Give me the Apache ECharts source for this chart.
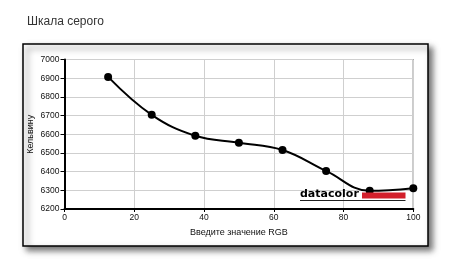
<!DOCTYPE html>
<html>
<head>
<meta charset="utf-8">
<script src="https://cdn.jsdelivr.net/npm/echarts@6/dist/echarts.min.js"></script>
<style>
html,body{margin:0;padding:0;background:#fff;}
#chart{width:457px;height:264px;}
</style>
</head>
<body>
<div id="chart"></div>
<script>
var chartTitle = 'Шкала серого';
var xAxisName = 'Введите значение RGB';
var yAxisName = 'Кельвину';
var rgbValues = [12.5, 25, 37.5, 50, 62.5, 75, 87.5, 100];
var kelvinValues = [6907, 6704, 6592, 6555, 6516, 6404, 6297, 6311];
var xTicks = [0, 20, 40, 60, 80, 100];
var yTicks = [6200, 6300, 6400, 6500, 6600, 6700, 6800, 6900, 7000];
var logoText = 'datacolor';

var chart = echarts.init(document.getElementById('chart'), null, {renderer: 'canvas'});
var points = rgbValues.map(function (x, i) { return [x, kelvinValues[i]]; });
var font = 'Liberation Sans, Arial, sans-serif';

chart.setOption({
  animation: false,
  backgroundColor: '#fff',
  title: {
    text: chartTitle,
    left: 22,
    top: 11,
    textStyle: {fontFamily: font, fontSize: 12, fontWeight: 'normal', color: '#333'}
  },
  graphic: [
    {
      type: 'rect', z: -10, silent: true,
      shape: {x: 23, y: 44, width: 405, height: 202},
      style: {fill: '#fff', stroke: '#000', lineWidth: 1.5,
        shadowBlur: 6, shadowOffsetX: 4, shadowOffsetY: 4, shadowColor: 'rgba(0,0,0,0.55)'}
    },
    {
      type: 'text', z: 100, silent: true,
      x: 300, y: 199.5,
      style: {text: logoText, fontFamily: 'DejaVu Sans, sans-serif', fontWeight: 'bold', fontSize: 11,
        fill: '#000', textVerticalAlign: 'bottom', textAlign: 'left'}
    },
    {
      type: 'rect', z: 100, silent: true,
      shape: {x: 362, y: 192.5, width: 43.5, height: 6},
      style: {fill: '#d21f2b'}
    },
    {
      type: 'line', z: 100, silent: true,
      shape: {x1: 300, y1: 200.5, x2: 405.5, y2: 200.5},
      style: {stroke: '#222', lineWidth: 1}
    }
  ],
  grid: {
    left: 64.5, right: 43.7, top: 59.5, bottom: 55,
    show: true, borderColor: '#000', borderWidth: 1, backgroundColor: 'transparent'
  },
  xAxis: {
    type: 'value', min: xTicks[0], max: xTicks[xTicks.length - 1], interval: 20,
    name: xAxisName, nameLocation: 'middle', nameGap: 19, nameMoveOverlap: false,
    nameTextStyle: {fontFamily: font, fontSize: 9, color: '#111'},
    axisLine: {show: true, lineStyle: {color: '#000', width: 2}},
    axisTick: {show: true, length: 3, lineStyle: {color: '#000'}},
    axisLabel: {fontFamily: font, fontSize: 8.5, color: '#111', margin: 4,
      formatter: function (v) { return String(v); }},
    splitLine: {show: true, lineStyle: {color: '#cfcfcf', width: 1}}
  },
  yAxis: {
    type: 'value', min: yTicks[0], max: yTicks[yTicks.length - 1], interval: 100,
    name: yAxisName, nameLocation: 'middle', nameGap: 29, nameMoveOverlap: false,
    nameTextStyle: {fontFamily: font, fontSize: 9, color: '#111'},
    axisLine: {show: true, lineStyle: {color: '#000', width: 2}},
    axisTick: {show: true, length: 4, lineStyle: {color: '#000'}},
    axisLabel: {fontFamily: font, fontSize: 8.5, color: '#111', margin: 5,
      formatter: function (v) { return String(v); }},
    splitLine: {show: true, lineStyle: {color: '#cfcfcf', width: 1}}
  },
  series: [{
    type: 'line',
    data: points,
    smooth: 0.4,
    symbol: 'circle',
    symbolSize: 8,
    itemStyle: {color: '#000'},
    lineStyle: {color: '#000', width: 2},
    z: 5
  }]
});
</script>
</body>
</html>
